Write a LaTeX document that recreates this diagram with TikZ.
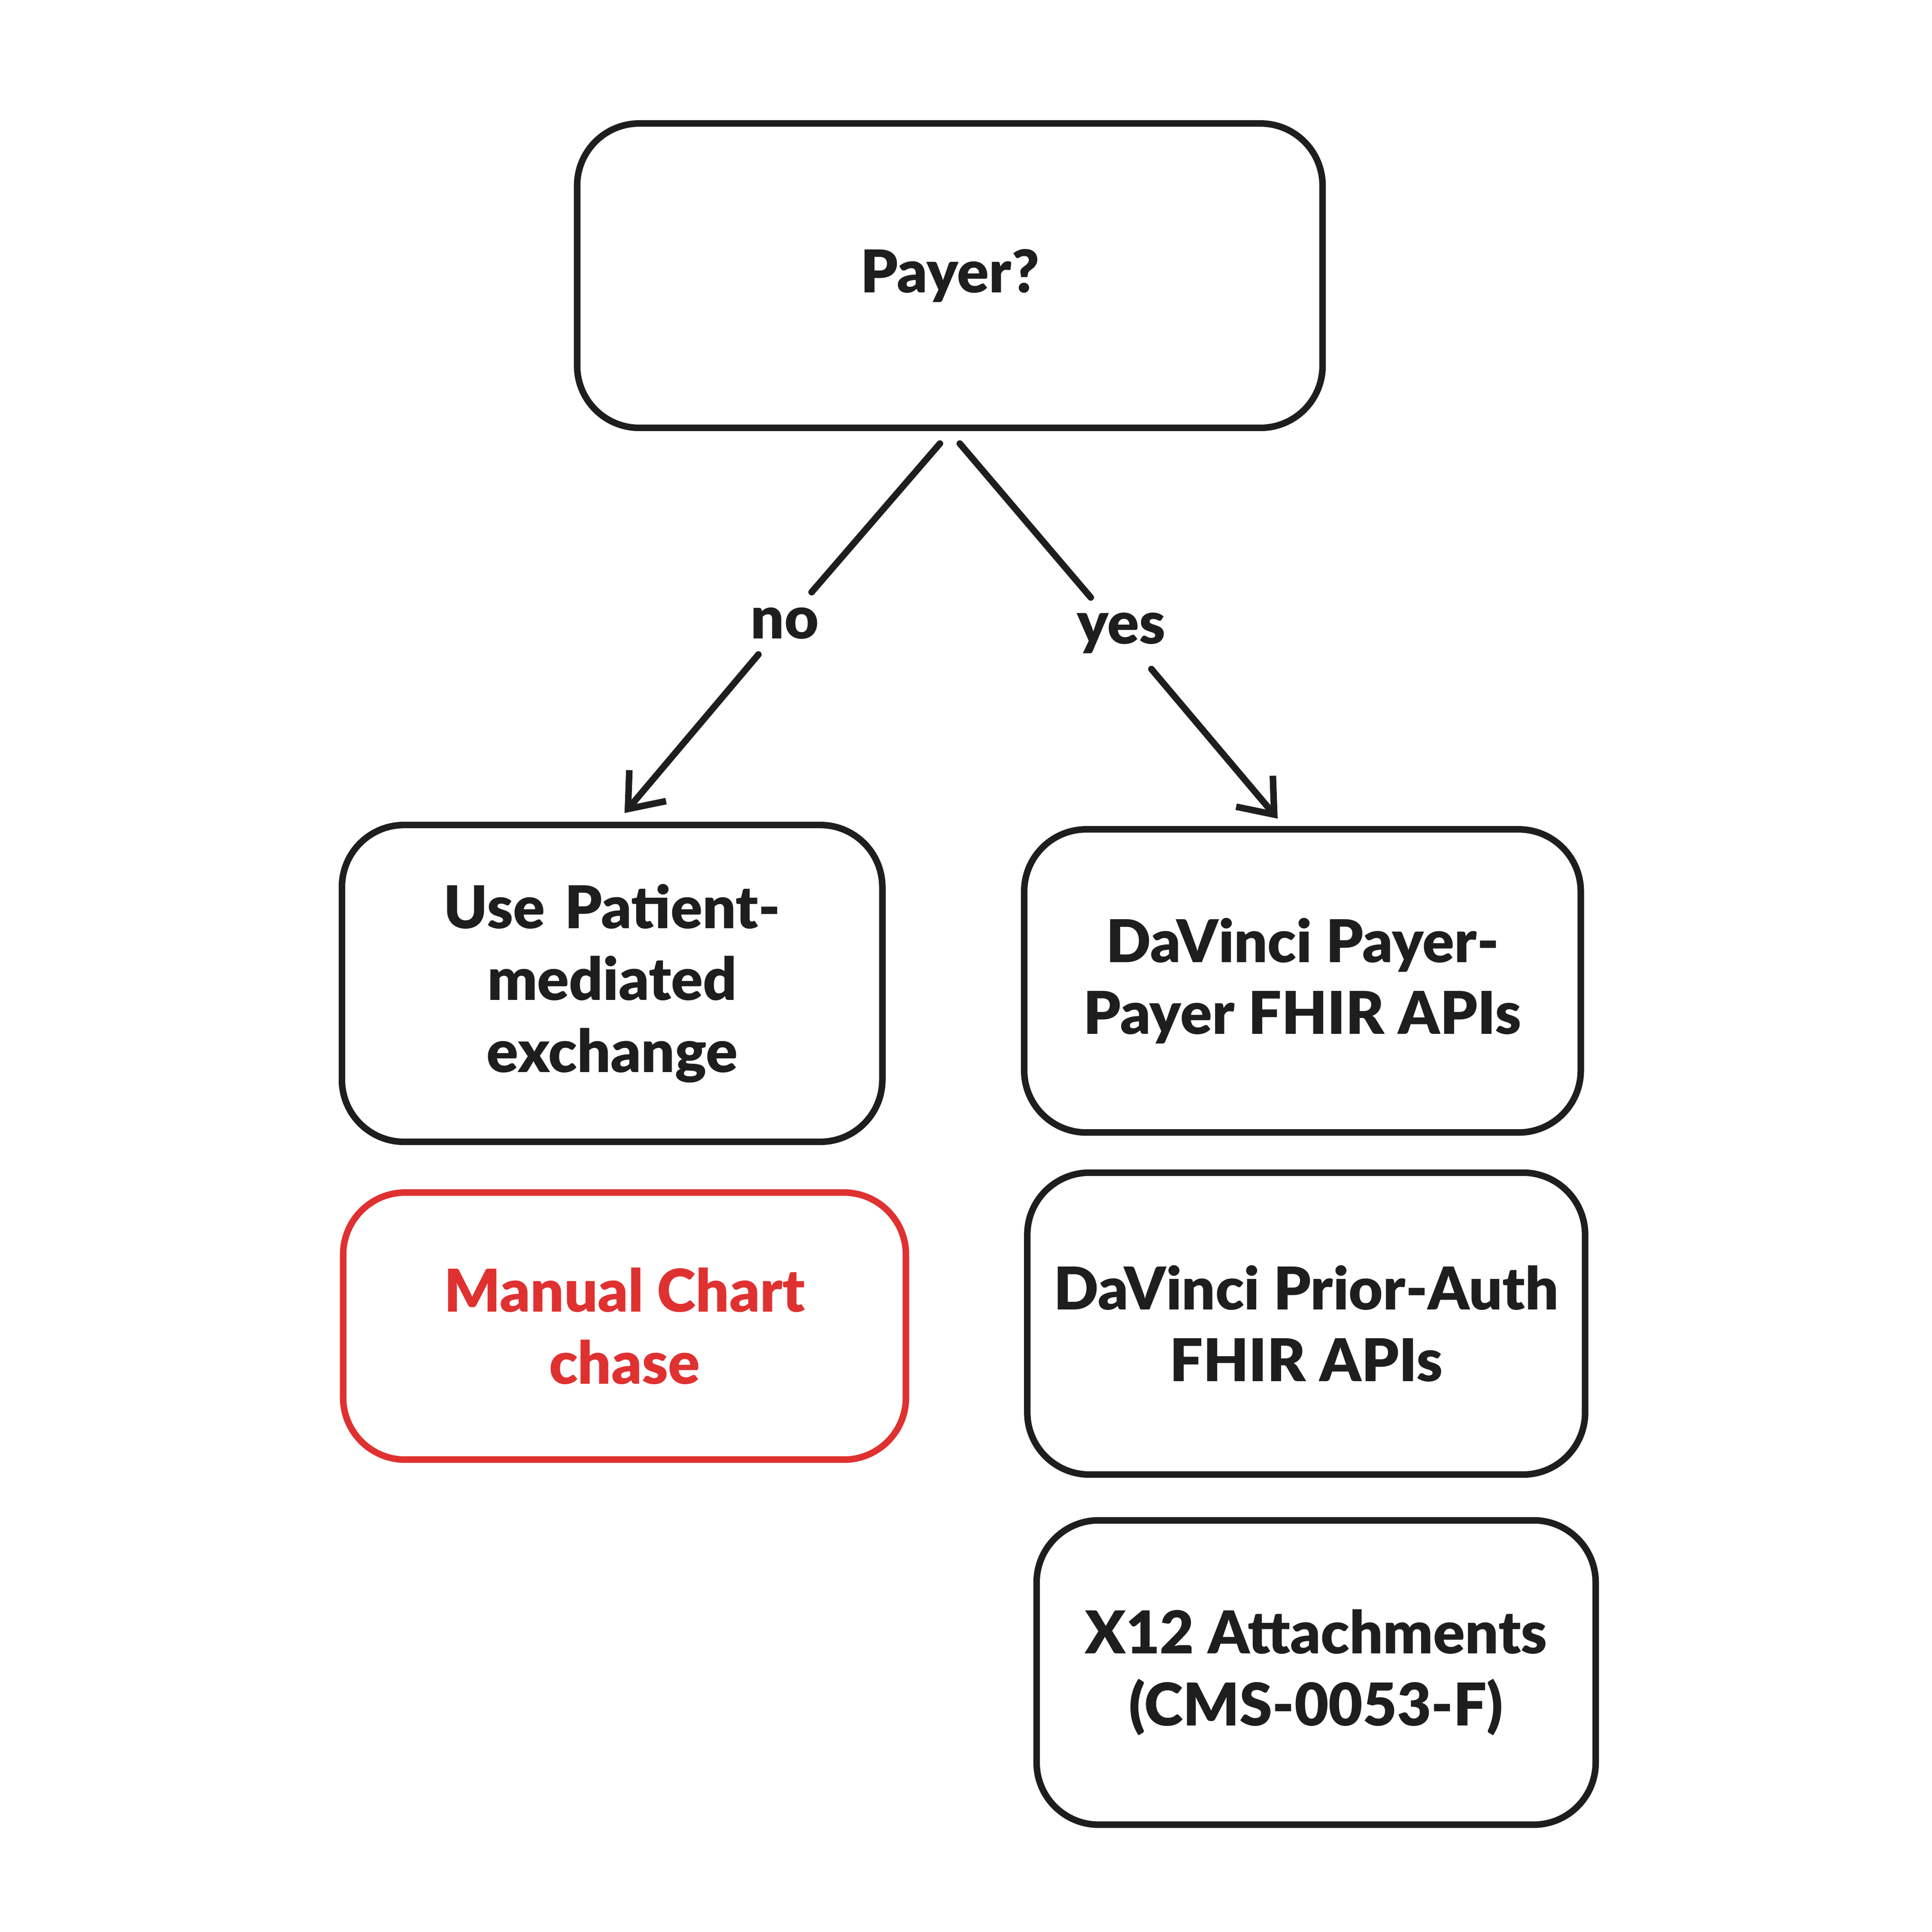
\documentclass[tikz,border=0pt]{standalone}
\usepackage{fontspec}
\usetikzlibrary{arrows.meta}
\setmainfont{Lato}[BoldFont={Lato Black}]
\definecolor{ink}{HTML}{1E1E1E}
\definecolor{redink}{HTML}{E03131}
\begin{document}
\begin{tikzpicture}[x=0.01cm,y=-0.01cm,
  box/.style={draw=ink,line width=1.5pt,rounded corners=0.5cm,align=center,
    font=\fontsize{13.5}{16.5}\selectfont\bfseries,text=ink,inner sep=0pt},
  arr/.style={draw=ink,line width=1.5pt,line cap=round,-{Straight Barb[length=7pt,width=11pt]}},
  lbl/.style={font=\fontsize{13.5}{16.5}\selectfont\bfseries,text=ink}]
\useasboundingbox (0,0) rectangle (1556,1556);
\node[box,minimum width=6cm,minimum height=2.45cm] (payer) at (765,222) {Payer?};
\node[box,minimum width=4.35cm,minimum height=2.55cm,text width=3.4cm] (pat) at (493,792) {Use Patient-\\mediated\\exchange};
\node[box,draw=redink,text=redink,minimum width=4.53cm,minimum height=2.15cm] (man) at (503,1068) {Manual Chart\\chase};
\node[box,minimum width=4.48cm,minimum height=2.44cm] (pp) at (1049,790) {DaVinci Payer-\\Payer FHIR APIs};
\node[box,minimum width=4.49cm,minimum height=2.43cm] (pa) at (1052,1066) {DaVinci Prior-Auth\\FHIR APIs};
\node[box,minimum width=4.5cm,minimum height=2.45cm] (x12) at (1060,1347) {X12 Attachments\\(CMS-0053-F)};
\node[lbl] (no) at (632,502) {no};
\node[lbl] (yes) at (903,510) {yes};
\draw[arr] ([xshift=-0.08cm,yshift=-0.1cm]payer.south) -- (no) -- ([xshift=0.1cm,yshift=0.07cm]pat.north);
\draw[arr] ([xshift=0.08cm,yshift=-0.1cm]payer.south) -- (yes) -- ([xshift=-0.2cm,yshift=0.06cm]pp.north);
\end{tikzpicture}
\end{document}
